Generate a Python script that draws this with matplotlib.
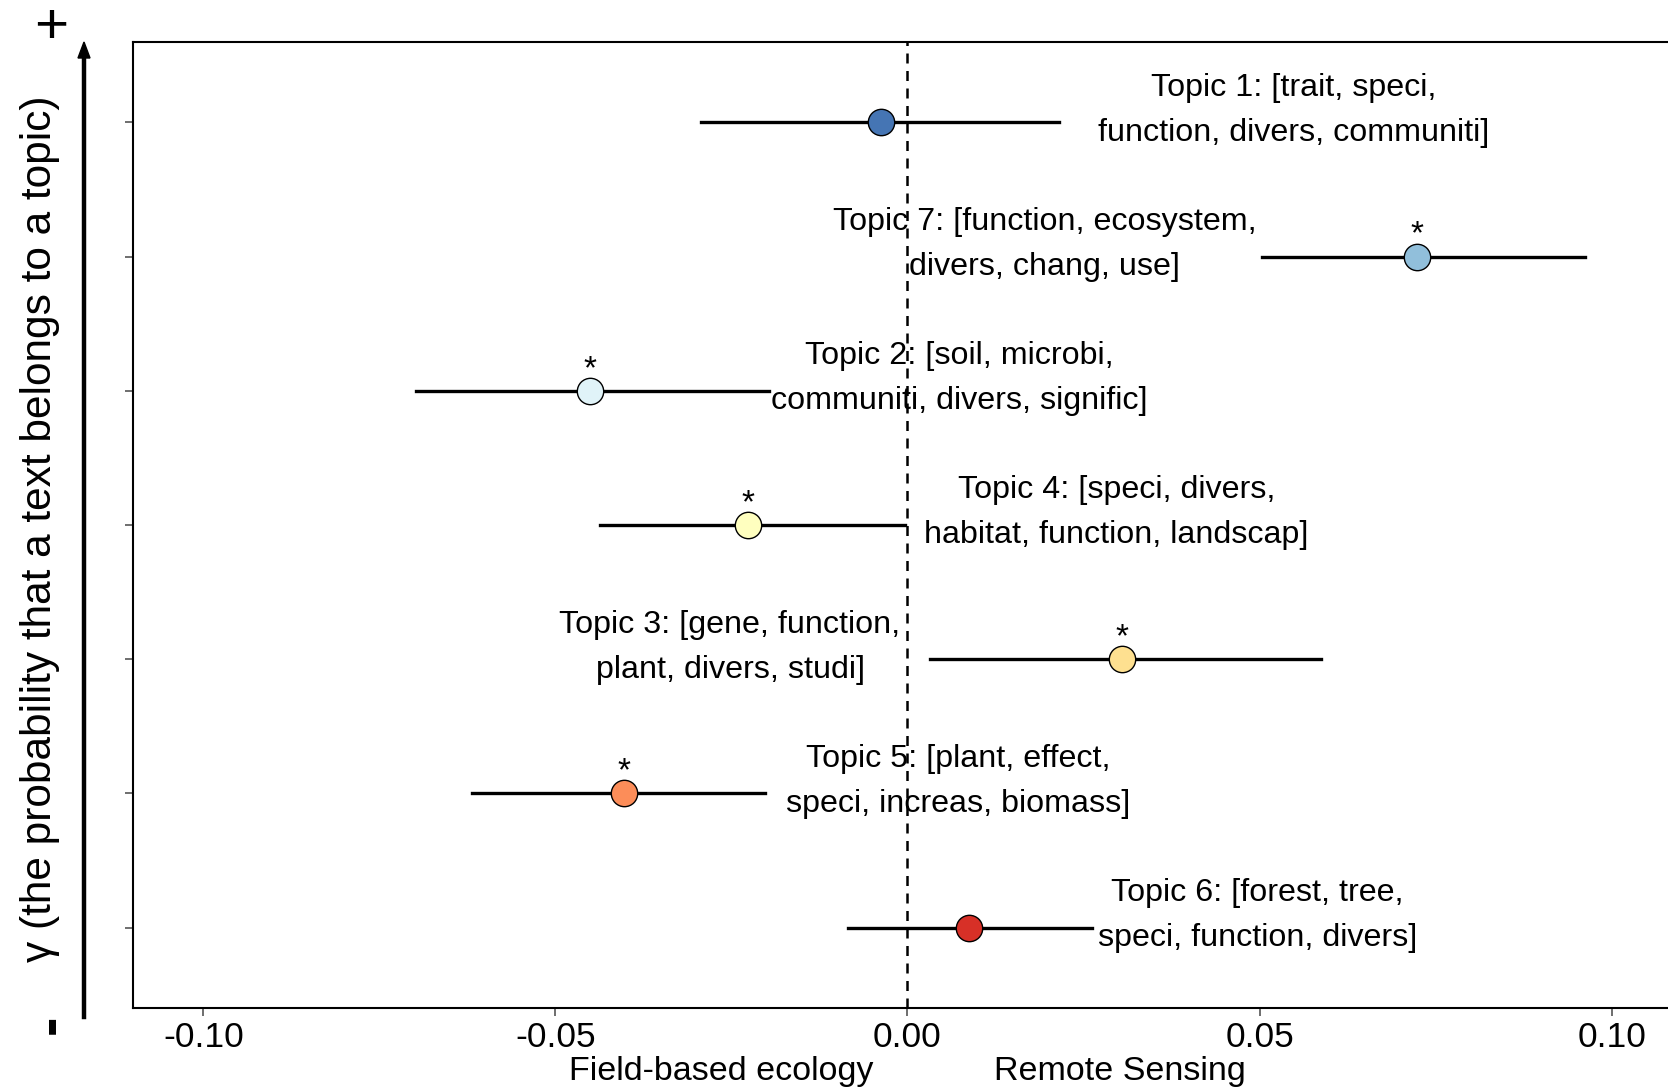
import matplotlib.pyplot as plt

plt.rcParams['font.family'] = ['Liberation Sans', 'DejaVu Sans']

# rows from top to bottom
topics = ["Topic 1", "Topic 7", "Topic 2", "Topic 4", "Topic 3", "Topic 5", "Topic 6"]
labels = ["Topic 1: [trait, speci,\nfunction, divers, communiti]",
          "Topic 7: [function, ecosystem,\ndivers, chang, use]",
          "Topic 2: [soil, microbi,\ncommuniti, divers, signific]",
          "Topic 4: [speci, divers,\nhabitat, function, landscap]",
          "Topic 3: [gene, function,\nplant, divers, studi]",
          "Topic 5: [plant, effect,\nspeci, increas, biomass]",
          "Topic 6: [forest, tree,\nspeci, function, divers]"]
estimate = [-0.0037, 0.0723, -0.0451, -0.0226, 0.0304, -0.0403, 0.0088]
lower = [-0.0293, 0.0504, -0.0698, -0.0436, 0.0032, -0.0619, -0.0085]
upper = [0.0215, 0.0962, -0.0197, -0.0004, 0.0587, -0.0203, 0.0262]
signif = [False, True, True, True, True, True, False]
label_x = [0.0549, 0.0195, 0.0074, 0.0297, -0.0252, 0.0072, 0.0497]
colors = ["#4575b4", "#91bfdb", "#e0f3f8", "#ffffbf", "#fee090", "#fc8d59", "#d73027"]
xticks = [-0.10, -0.05, 0.00, 0.05, 0.10]

fig = plt.figure(figsize=(16.68, 10.88), dpi=100)
ax = fig.add_axes([0.0797, 0.0735, 0.9287, 0.8879])

n = len(topics)
ypos = [n - i for i in range(n)]

ax.axvline(0, color='black', lw=1.8, ls=(0, (4, 3)), zorder=1)
for i in range(n):
    ax.plot([lower[i], upper[i]], [ypos[i], ypos[i]], color='black', lw=2.4, zorder=2)
    ax.plot(estimate[i], ypos[i], 'o', ms=19, mfc=colors[i], mec='black', mew=1.0, zorder=3)
    if signif[i]:
        ax.text(estimate[i], ypos[i] + 0.16, "*", ha='center', va='center', fontsize=24, zorder=4)
    ax.text(label_x[i], ypos[i] + 0.09, labels[i], ha='center', va='center',
            fontsize=23.2, linespacing=1.65, zorder=4)

ax.set_xlim(-0.11, 0.11)
ax.set_ylim(0.4, 7.6)
ax.set_xticks(xticks)
ax.set_xticklabels(["-0.10", "-0.05", "0.00", "0.05", "0.10"], fontsize=25.5)
ax.set_yticks(ypos)
ax.set_yticklabels([])
ax.tick_params(axis='both', length=6, width=1.2, color='#555555')
ax.tick_params(axis='x', pad=3)
for s in ['left', 'bottom', 'top', 'right']:
    ax.spines[s].set_linewidth(1.5)

# direction labels under the x axis
ax.text(-0.0264, -0.066, "Field-based ecology", transform=ax.get_xaxis_transform(),
        ha='center', va='center', fontsize=24.5)
ax.text(0.0302, -0.066, "Remote Sensing", transform=ax.get_xaxis_transform(),
        ha='center', va='center', fontsize=24.5)

# y-axis arrow with + and - signs
fig.add_artist(plt.Line2D([84/1668, 84/1668], [1 - 1017/1088, 1 - 60/1088], color='black', lw=3.2))
fig.add_artist(plt.Polygon([[78/1668, 1 - 58/1088], [90/1668, 1 - 58/1088], [84/1668, 1 - 42/1088]],
                           closed=True, color='black'))
fig.text(51/1668, 1 - 28/1088, "+", ha='center', va='center', fontsize=42)
fig.text(52/1668, 1 - 1024/1088, "-", ha='center', va='center', fontsize=42, rotation=90, fontweight='bold')
fig.text(40/1668, 1 - 529/1088, "\u03b3 (the probability that a text belongs to a topic)",
         ha='center', va='center', rotation=90, fontsize=30.5)

fig.savefig("out.png", dpi=100)
